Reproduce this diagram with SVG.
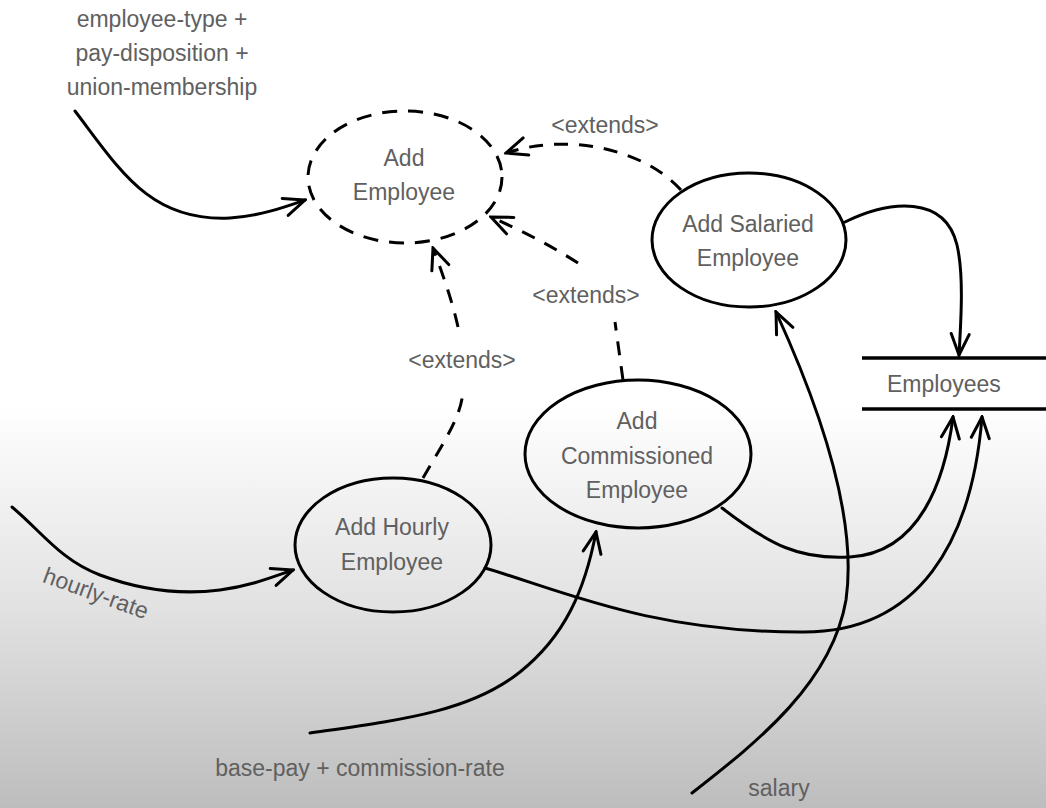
<svg xmlns="http://www.w3.org/2000/svg" width="1046" height="808" viewBox="0 0 1046 808">
<defs>
<linearGradient id="bg" x1="0" y1="0" x2="0" y2="1">
<stop offset="0" stop-color="#ffffff"/>
<stop offset="0.5" stop-color="#ffffff"/>
<stop offset="0.75" stop-color="#e2e2e2"/>
<stop offset="1" stop-color="#bdbdbd"/>
</linearGradient>
<marker id="arr" viewBox="-24 -12 26 24" refX="0" refY="0" markerWidth="26" markerHeight="24" markerUnits="userSpaceOnUse" orient="auto">
<path d="M-21,-9 L0,0 L-21,9" fill="none" stroke="#000" stroke-width="3" stroke-linecap="round" stroke-linejoin="miter"/>
</marker>
<style>
text{font-family:"Liberation Sans",Arial,Helvetica,sans-serif;font-size:23px;fill:#606060;}
.c{text-anchor:middle;}
.node{fill:none;stroke:#000;stroke-width:3;}
.dashnode{fill:none;stroke:#000;stroke-width:3;stroke-dasharray:15 11;}
.flow{fill:none;stroke:#000;stroke-width:3;stroke-linecap:round;}
.dash{fill:none;stroke:#000;stroke-width:3;stroke-dasharray:14 11;}
</style>
</defs>
<rect x="0" y="0" width="1046" height="808" fill="url(#bg)"/>

<g id="connectors">
<!-- input flows -->
<path class="flow" d="M75,111 C120,170 150,222 230,218 C260,216 285,207 305,200" marker-end="url(#arr)"/>
<path class="flow" d="M12,507 C40,530 60,560 100,575 C140,590 180,595 220,590 C250,586 270,578 293,570" marker-end="url(#arr)"/>
<path class="flow" d="M310,733 C400,720 470,712 520,672 C565,636 585,590 596,532" marker-end="url(#arr)"/>
<path class="flow" d="M692,793 C760,740 832,682 846,600 C856,530 830,430 776,312" marker-end="url(#arr)"/>
<!-- flows to store -->
<path class="flow" d="M845,222 C890,200 945,195 957,245 C964,275 961,320 959,355" marker-end="url(#arr)"/>
<path class="flow" d="M722,508 C770,545 800,560 850,557 C920,553 945,480 953,417" marker-end="url(#arr)"/>
<path class="flow" d="M485,568 C560,590 650,632 800,632 C920,634 972,540 982,417" marker-end="url(#arr)"/>
<!-- extends -->
<path class="dash" d="M681,190 C645,150 570,132 506,153" marker-end="url(#arr)"/>
<path class="dash" d="M623,380 L615,322"/>
<path class="dash" d="M578,263 C550,245 520,230 491,217" marker-end="url(#arr)"/>
<path class="dash" d="M423,478 C445,440 462,415 463,390"/>
<path class="dash" d="M458,327 C452,300 443,275 433,248" marker-end="url(#arr)"/>
<text class="c" x="605" y="133">&lt;extends&gt;</text>
<text class="c" x="586" y="303">&lt;extends&gt;</text>
<text class="c" x="462" y="368">&lt;extends&gt;</text>
</g>

<g id="in-employee-type">
<text class="c" x="162" y="27">employee-type +</text>
<text class="c" x="162" y="61">pay-disposition +</text>
<text class="c" x="162" y="95">union-membership</text>
</g>

<g id="in-hourly-rate">
<text class="c" transform="translate(96,593) rotate(20)" x="0" y="8">hourly-rate</text>
</g>

<g id="in-base-pay">
<text class="c" x="360" y="776">base-pay + commission-rate</text>
</g>

<g id="in-salary">
<text class="c" x="779" y="796">salary</text>
</g>

<g id="add-employee">
<ellipse class="dashnode" cx="405" cy="177" rx="97" ry="66"/>
<text class="c" x="404" y="166">Add</text>
<text class="c" x="404" y="200">Employee</text>
</g>

<g id="add-salaried">
<ellipse class="node" cx="749" cy="240" rx="97" ry="67"/>
<text class="c" x="748" y="232">Add Salaried</text>
<text class="c" x="748" y="266">Employee</text>
</g>

<g id="add-commissioned">
<ellipse class="node" cx="638" cy="454" rx="113" ry="74"/>
<text class="c" x="637" y="429">Add</text>
<text class="c" x="637" y="464">Commissioned</text>
<text class="c" x="637" y="498">Employee</text>
</g>

<g id="add-hourly">
<ellipse class="node" cx="393" cy="545" rx="98" ry="67"/>
<text class="c" x="392" y="535">Add Hourly</text>
<text class="c" x="392" y="570">Employee</text>
</g>

<g id="employees-store">
<line x1="862" y1="358" x2="1046" y2="358" stroke="#000" stroke-width="3.5"/>
<line x1="862" y1="409" x2="1046" y2="409" stroke="#000" stroke-width="3.5"/>
<text x="887" y="392">Employees</text>
</g>
</svg>
